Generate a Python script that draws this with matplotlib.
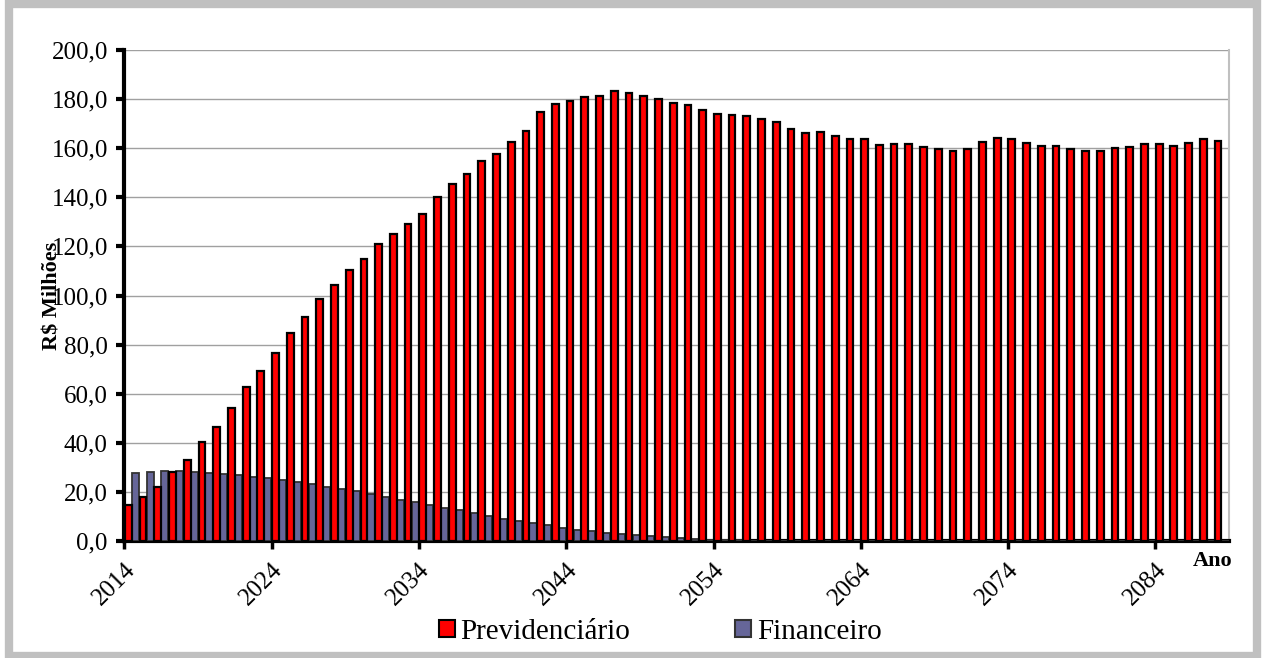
import matplotlib

matplotlib.use("Agg")
import matplotlib.pyplot as plt  # noqa: E402
import numpy as np  # noqa: E402
from matplotlib.patches import Patch, Rectangle  # noqa: E402

anos = list(range(2014, 2089))

previdenciario = [
    14.7, 18.0, 22.0, 28.0, 33.0, 40.2, 46.6, 54.2, 62.6, 69.4,
    76.4, 84.6, 91.4, 98.6, 104.1, 110.4, 114.7, 121.0, 125.1, 129.0,
    133.2, 140.0, 145.4, 149.4, 154.8, 157.6, 162.7, 167.0, 174.7, 177.9,
    179.4, 180.7, 181.3, 183.2, 182.5, 181.3, 180.2, 178.3, 177.5, 175.6,
    174.1, 173.5, 173.1, 172.0, 170.5, 167.7, 166.3, 166.6, 165.1, 163.6,
    163.6, 161.3, 161.6, 161.6, 160.4, 159.8, 158.9, 159.6, 162.5, 164.0,
    163.6, 162.0, 160.8, 160.9, 159.8, 158.9, 158.9, 159.9, 160.4, 161.6,
    161.7, 161.0, 162.2, 163.6, 162.9,
]

financeiro = [
    27.6, 28.2, 28.6, 28.5, 28.2, 27.8, 27.4, 26.9, 26.2, 25.5,
    24.8, 24.0, 23.2, 22.1, 21.2, 20.4, 19.3, 17.9, 16.8, 15.8,
    14.7, 13.6, 12.5, 11.4, 10.2, 9.1, 8.1, 7.2, 6.4, 5.4,
    4.6, 3.9, 3.4, 2.9, 2.3, 1.9, 1.6, 1.3, 0.9, 0.6,
    0.4, 0.3, 0.2, 0.1, 0.0, 0.0, 0.0, 0.0, 0.0, 0.0,
    0.0, 0.0, 0.0, 0.0, 0.0, 0.0, 0.0, 0.0, 0.0, 0.0,
    0.0, 0.0, 0.0, 0.0, 0.0, 0.0, 0.0, 0.0, 0.0, 0.0,
    0.0, 0.0, 0.0, 0.0, 0.0,
]

y_ticks = list(range(0, 201, 20))

RED = "#ff0000"
BLUE = "#666699"

plt.rcParams["font.family"] = ["Liberation Serif", "DejaVu Serif"]

fig = plt.figure(figsize=(12.65, 6.58), dpi=100)
ax = fig.add_axes([0.0984, 0.1778, 0.8731, 0.7462])

x = np.arange(len(anos))
ax.bar(x + 0.74, financeiro, width=0.48, color=BLUE, edgecolor="#333333",
       linewidth=1.3, zorder=3)
ax.bar(x + 0.26, previdenciario, width=0.46, color=RED, edgecolor="black",
       linewidth=1.6, zorder=4)

ax.set_xlim(0, len(anos))
ax.set_ylim(0, 200)

ax.set_yticks(y_ticks)
ax.set_yticklabels([f"{v:.1f}".replace(".", ",") for v in y_ticks], fontsize=18)
ax.yaxis.grid(True, color="#a0a0a0", linewidth=1.0, zorder=0)
ax.set_axisbelow(True)

# ticks at category boundaries, labels at category centres
ax.set_xticks(np.arange(0, len(anos), 10))
ax.set_xticklabels([])
ax.set_xticks(np.arange(0, len(anos), 10) + 0.5, minor=True)
ax.set_xticklabels([str(anos[i]) for i in range(0, len(anos), 10)], minor=True,
                   fontsize=18, rotation=45, ha="right", va="center",
                   rotation_mode="anchor")
ax.tick_params(axis="x", which="major", length=6, width=2.5, direction="out")
ax.tick_params(axis="x", which="minor", length=0, pad=18)
ax.tick_params(axis="y", length=6, width=3, direction="out", pad=6)

for side in ("left", "bottom"):
    ax.spines[side].set_linewidth(3)
    ax.spines[side].set_color("black")
ax.spines["top"].set_visible(False)
ax.spines["right"].set_color("#c0c0c0")
ax.spines["right"].set_linewidth(1.5)

# the reference label sits over the tick labels
ax.set_ylabel("R$ Milhões", fontsize=16, fontweight="bold", labelpad=-8)
ax.text(1.003, -0.04, "Ano", transform=ax.transAxes, ha="right", va="center",
        fontsize=16, fontweight="bold")

handles = [Patch(facecolor=RED, edgecolor="black", linewidth=1.5),
           Patch(facecolor=BLUE, edgecolor="#333333", linewidth=1.5)]
fig.legend(handles, ["Previdenciário", "Financeiro"], loc="center",
           bbox_to_anchor=(0.522, 0.04), ncol=2, frameon=False, fontsize=21,
           handlelength=0.55, handleheight=0.55, handletextpad=0.2,
           columnspacing=3.6)

fig.patches.append(Rectangle((0.0071, 0.003), 0.9866, 0.991, transform=fig.transFigure,
                             fill=False, edgecolor="#c0c0c0", linewidth=6))

fig.savefig("out.png", dpi=100)
plt.close(fig)
